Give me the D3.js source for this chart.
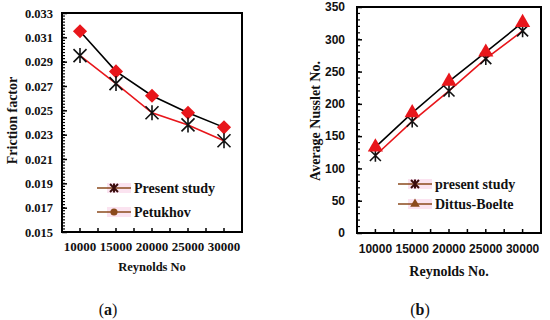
<!DOCTYPE html>
<html>
<head>
<meta charset="utf-8">
<script src="https://cdn.jsdelivr.net/npm/d3@7"></script>
<style>
  body { margin: 0; background: #fff; }
  svg { display: block; }
</style>
</head>
<body>
<div class="chart"></div>
<script>
// data
var categories = ["10000", "15000", "20000", "25000", "30000"];
var frictionPresent = [0.0295, 0.0272, 0.0248, 0.0238, 0.0225];
var frictionPetukhov = [0.0315, 0.0282, 0.0262, 0.0248, 0.0236];
var frictionTicks = [0.015, 0.017, 0.019, 0.021, 0.023, 0.025, 0.027, 0.029, 0.031, 0.033];
var nusseltPresent = [120, 173, 220, 270, 313];
var nusseltDittus = [133, 186, 235, 280, 326];
var nusseltTicks = [0, 50, 100, 150, 200, 250, 300, 350];

var RED = "#e8161b";
var serif = "'Liberation Serif', 'Times New Roman', serif";
var sans = "'Liberation Sans', Arial, sans-serif";

var svg = d3.select(".chart")
  .append("svg")
    .attr("width", 550)
    .attr("height", 320);

// asterisk marker: X plus vertical bar
function asterisk(r) {
  return "M" + (-r) + "," + (-r) + "L" + r + "," + r +
         "M" + (-r) + "," + r + "L" + r + "," + (-r) +
         "M0," + (-r * 1.15) + "L0," + (r * 1.15);
}

function panel(o) {
  var g = svg.append("g");

  var x = d3.scaleBand()
    .domain(categories)
    .range([o.left, o.right])
    .padding(0);
  var y = d3.scaleLinear()
    .domain([o.ticks[0], o.ticks[o.ticks.length - 1]])
    .range([o.bottom, o.top]);

  // minor ticks on the y axis (inside)
  var minor = d3.range(o.ticks[0], o.ticks[o.ticks.length - 1] + o.minorStep / 2, o.minorStep);
  g.append("g")
    .selectAll("line")
    .data(minor)
    .enter().append("line")
      .attr("x1", o.left).attr("x2", o.left + 3)
      .attr("y1", function(d) { return y(d); })
      .attr("y2", function(d) { return y(d); })
      .attr("stroke", "#000").attr("stroke-width", 1.2);

  // x ticks at category centres and boundaries
  var xt = [];
  categories.forEach(function(c, i) {
    xt.push(x(c));
    xt.push(x(c) + x.bandwidth() / 2);
  });
  xt.push(o.right);
  g.append("g")
    .selectAll("line")
    .data(xt)
    .enter().append("line")
      .attr("x1", function(d) { return d; })
      .attr("x2", function(d) { return d; })
      .attr("y1", o.bottom).attr("y2", o.bottom - 4)
      .attr("stroke", "#000").attr("stroke-width", 1.5);

  // y axis
  var yAxis = g.append("g")
    .attr("transform", "translate(" + o.left + ",0)")
    .call(d3.axisLeft(y).tickValues(o.ticks).tickFormat(o.fmt).tickSize(-5).tickPadding(o.yPad));
  yAxis.select(".domain").remove();
  yAxis.selectAll(".tick line").attr("stroke-width", 1.5);
  yAxis.selectAll("text")
    .attr("font-family", o.tickFont)
    .attr("font-weight", "bold")
    .attr("font-size", o.yFontSize)
    .attr("fill", "#111");

  // x axis
  var xAxis = g.append("g")
    .attr("transform", "translate(0," + o.bottom + ")")
    .call(d3.axisBottom(x).tickSize(0).tickPadding(o.xPad));
  xAxis.select(".domain").remove();
  xAxis.selectAll("text")
    .attr("font-family", o.tickFont)
    .attr("font-weight", "bold")
    .attr("font-size", o.xFontSize)
    .attr("fill", "#111");

  // plot frame
  g.append("rect")
    .attr("x", o.left).attr("y", o.top)
    .attr("width", o.right - o.left).attr("height", o.bottom - o.top)
    .attr("fill", "none").attr("stroke", "#000").attr("stroke-width", 2);

  var cx = function(d, i) { return x(categories[i]) + x.bandwidth() / 2; };
  var line = d3.line()
    .x(function(d, i) { return cx(d, i); })
    .y(function(d) { return y(d); });

  // reference series: black line, red markers
  g.append("path")
    .datum(o.refData)
    .attr("d", line)
    .attr("fill", "none").attr("stroke", "#000").attr("stroke-width", 1.6);
  // present study: red line, black asterisks
  g.append("path")
    .datum(o.presentData)
    .attr("d", line)
    .attr("fill", "none").attr("stroke", RED).attr("stroke-width", 1.6);

  function drawRef() {
    g.append("g")
      .selectAll("path")
      .data(o.refData)
      .enter().append("path")
        .attr("transform", function(d, i) {
          return "translate(" + cx(d, i) + "," + (y(d) + o.refShift) + ") rotate(" + o.refRotate + ")";
        })
        .attr("d", d3.symbol().type(o.refSymbol).size(o.refSize))
        .attr("fill", RED);
  }
  function drawStars() {
    g.append("g")
      .selectAll("path")
      .data(o.presentData)
      .enter().append("path")
        .attr("transform", function(d, i) { return "translate(" + cx(d, i) + "," + y(d) + ")"; })
        .attr("d", asterisk(o.starR))
        .attr("fill", "none").attr("stroke", "#111").attr("stroke-width", 1.6);
  }
  if (o.refOnTop) { drawStars(); drawRef(); } else { drawRef(); drawStars(); }

  // legend
  var items = [
    { label: o.presentLabel, kind: "star" },
    { label: o.refLabel, kind: "ref" }
  ];
  var leg = g.append("g").selectAll("g")
    .data(items)
    .enter().append("g")
      .attr("transform", function(d, i) { return "translate(" + o.legX + "," + (o.legY + i * o.legGap) + ")"; });
  leg.append("rect")
    .attr("x", 10).attr("y", -5).attr("width", 24).attr("height", 10)
    .attr("fill", "#fbe3f0");
  leg.append("line")
    .attr("x1", 0).attr("x2", 34).attr("y1", 0).attr("y2", 0)
    .attr("stroke", "#8b4a1c").attr("stroke-width", 1.6);
  leg.append("path")
    .attr("transform", "translate(17,0)")
    .attr("d", function(d) {
      return d.kind === "star" ? asterisk(4) : d3.symbol().type(o.legSymbol).size(40)();
    })
    .attr("fill", function(d) { return d.kind === "star" ? "none" : "#8b4a1c"; })
    .attr("stroke", function(d) { return d.kind === "star" ? "#3a0d0d" : "none"; })
    .attr("stroke-width", 2);
  leg.append("text")
    .attr("x", 37).attr("y", 0).attr("dy", "0.35em")
    .attr("font-family", serif).attr("font-weight", "bold").attr("font-size", 14)
    .attr("fill", "#111")
    .text(function(d) { return d.label; });

  // axis titles
  g.append("text")
    .attr("transform", "translate(" + o.yTitleX + "," + ((o.top + o.bottom) / 2 + o.yTitleShift) + ") rotate(-90)")
    .attr("text-anchor", "middle").attr("dy", "0.35em")
    .attr("font-family", serif).attr("font-weight", "bold").attr("font-size", 14)
    .attr("fill", "#111")
    .text(o.yTitle);
  g.append("text")
    .attr("x", (o.left + o.right) / 2).attr("y", o.xTitleY)
    .attr("text-anchor", "middle").attr("dy", "0.35em")
    .attr("font-family", serif).attr("font-weight", "bold").attr("font-size", o.xTitleSize)
    .attr("fill", "#111")
    .text(o.xTitle);

  // panel label
  var pl = g.append("text")
    .attr("x", (o.left + o.right) / 2 - 44 + o.labelShift).attr("y", 309)
    .attr("text-anchor", "middle").attr("dy", "0.35em")
    .attr("font-family", serif).attr("font-size", 16).attr("fill", "#111");
  pl.append("tspan").text("(");
  pl.append("tspan").attr("font-weight", "bold").text(o.panelLabel);
  pl.append("tspan").text(")");
}

panel({
  left: 62, right: 242, top: 13, bottom: 232,
  ticks: frictionTicks, minorStep: 0.00025,
  fmt: d3.format(".3f"), yPad: 9, xPad: 10,
  tickFont: serif, yFontSize: 12.5, xFontSize: 13,
  refData: frictionPetukhov, presentData: frictionPresent,
  refSymbol: d3.symbolSquare, refSize: 100, refRotate: 45, refShift: 0, starR: 6.5,
  refOnTop: false,
  legSymbol: d3.symbolCircle,
  presentLabel: "Present study", refLabel: "Petukhov",
  legX: 97, legY: 188, legGap: 24,
  yTitle: "Friction factor", yTitleX: 12, yTitleShift: -2,
  xTitle: "Reynolds No", xTitleY: 267, xTitleSize: 12.5,
  panelLabel: "a", labelShift: 0
});

panel({
  left: 357, right: 541, top: 7, bottom: 233,
  ticks: nusseltTicks, minorStep: 10,
  fmt: d3.format("d"), yPad: 12, xPad: 11,
  tickFont: sans, yFontSize: 12, xFontSize: 12,
  refData: nusseltDittus, presentData: nusseltPresent,
  refSymbol: d3.symbolTriangle, refSize: 100, refRotate: 0, refShift: 0, starR: 5.5,
  refOnTop: true,
  legSymbol: d3.symbolTriangle,
  presentLabel: "present study", refLabel: "Dittus-Boelte",
  legX: 398, legY: 184, legGap: 20,
  yTitle: "Average Nusslet No.", yTitleX: 315, yTitleShift: 1,
  xTitle: "Reynolds No.", xTitleY: 271, xTitleSize: 14,
  panelLabel: "b", labelShift: 15
});
</script>
</body>
</html>
